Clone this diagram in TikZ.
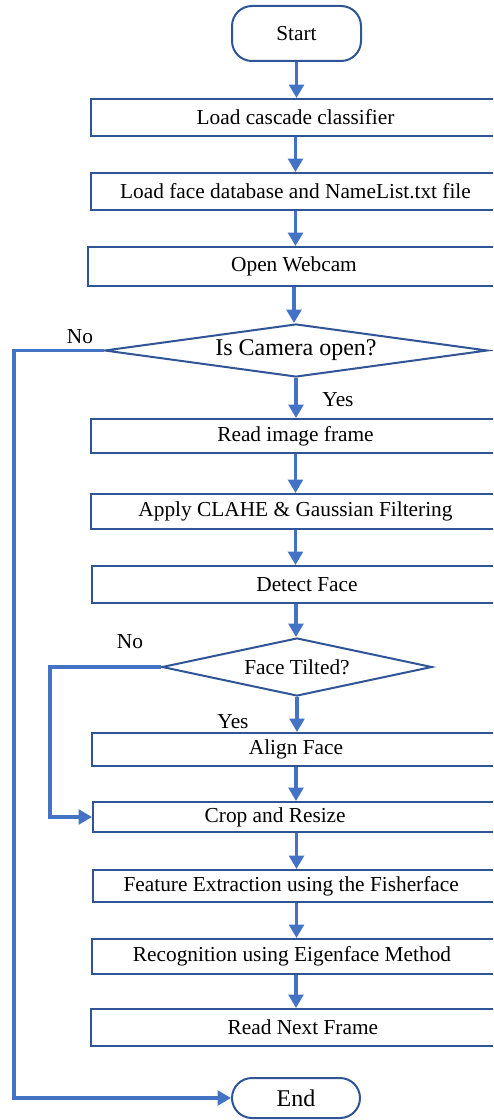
\documentclass[tikz,border=0pt]{standalone}
\usepackage{fontspec}
\setmainfont{Liberation Serif}
\usetikzlibrary{shapes.geometric,arrows.meta}
\definecolor{flowblue}{RGB}{68,114,196}
\definecolor{edgeblue}{RGB}{47,85,151}
\begin{document}
\begin{tikzpicture}[x=0.75pt,y=-0.75pt,
  font=\fontsize{16pt}{19pt}\selectfont,
  box/.style={draw=edgeblue, line width=1.5pt, rectangle, inner sep=0pt, fill=white},
  term/.style={draw=edgeblue, line width=1.5pt, rectangle, rounded corners=15pt, inner sep=0pt, fill=white},
  decision/.style={draw=edgeblue, line width=1.5pt, diamond, aspect=6, inner sep=0pt, fill=white},
  flow/.style={draw=flowblue, line width=2.4pt, -{Triangle[width=11pt,length=10pt]}},
  tag/.style={inner sep=0pt}]
\useasboundingbox (0,0) rectangle (493,1120);
\clip (0,0) rectangle (493,1120);

% process steps (the boxes run past the right edge)
\node[term, minimum width=96.75pt, minimum height=41.25pt] (start) at (296.5,33.5) {Start};
\node[box, minimum width=306.75pt, minimum height=27.75pt] (b1) at (295.5,117.5) {Load cascade classifier};
\node[box, minimum width=306.75pt, minimum height=27.75pt] (b2) at (295.5,191.5) {Load face database and NameList.txt file};
\node[box, minimum width=309pt, minimum height=29.25pt] (b3) at (294,266.5) {Open Webcam};
\node[decision, minimum width=287.25pt, minimum height=39.75pt, font=\fontsize{18pt}{21pt}\selectfont] (cam) at (296,350.5) {Is Camera open?};
\node[box, minimum width=306.75pt, minimum height=25.5pt] (b4) at (295.5,436) {Read image frame};
\node[box, minimum width=306.75pt, minimum height=26.25pt] (b5) at (295.5,511.5) {Apply CLAHE \& Gaussian Filtering};
\node[box, minimum width=306pt, minimum height=27.75pt, label={[xshift=8.25pt]center:Detect Face}] (b6) at (296,584.5) {};
\node[decision, minimum width=202.5pt, minimum height=43.5pt] (tilt) at (297,667) {Face Tilted?};
\node[box, minimum width=306pt, minimum height=24.75pt] (align) at (296,749.5) {Align Face};
\node[box, minimum width=305.25pt, minimum height=22.5pt, label={[xshift=-16pt]center:Crop and Resize}] (crop) at (296.5,817) {};
\node[box, minimum width=305.25pt, minimum height=24pt, label={[xshift=-4pt]center:Feature Extraction using the Fisherface}] (feat) at (296.5,886) {};
\node[box, minimum width=306pt, minimum height=26.25pt, label={[xshift=-3pt]center:Recognition using Eigenface Method}] (recog) at (296,956.5) {};
\node[box, minimum width=306.75pt, minimum height=27.75pt, label={[xshift=5.5pt]center:Read Next Frame}] (next) at (295.5,1027.5) {};
\node[term, minimum width=96pt, minimum height=30pt, font=\fontsize{18pt}{21pt}\selectfont] (end) at (296,1098) {End};

% branch labels
\node[tag] (camno) at (80,337) {No};
\node[tag] (camyes) at (338,400) {Yes};
\node[tag] (tiltno) at (130,642) {No};
\node[tag] (tiltyes) at (233,722) {Yes};

% corners of the two return paths
\coordinate (camturn) at (14,350.5);
\coordinate (tiltturn) at (50,667);

% main flow
\draw[flow] (start.south) -- (start.south |- b1.north);
\draw[flow] (b1.south) -- (b1.south |- b2.north);
\draw[flow] (b2.south) -- (b2.south |- b3.north);
\draw[flow] (b3.south) -- (b3.south |- cam.north);
\draw[flow] (cam.south) -- (cam.south |- b4.north);
\draw[flow] (b4.south) -- (b4.south |- b5.north);
\draw[flow] (b5.south) -- (b5.south |- b6.north);
\draw[flow] (b6.south) -- (b6.south |- tilt.north);
\draw[flow] (tilt.south) -- (tilt.south |- align.north);
\draw[flow] (align.south) -- (align.south |- crop.north);
\draw[flow] (crop.south) -- (crop.south |- feat.north);
\draw[flow] (feat.south) -- (feat.south |- recog.north);
\draw[flow] (recog.south) -- (recog.south |- next.north);

% "No" branches
\draw[flow] (cam.west) -- (cam.west -| camturn) |- (end.west);
\draw[flow] (tilt.west) -- (tilt.west -| tiltturn) |- (crop.west);
\end{tikzpicture}
\end{document}
